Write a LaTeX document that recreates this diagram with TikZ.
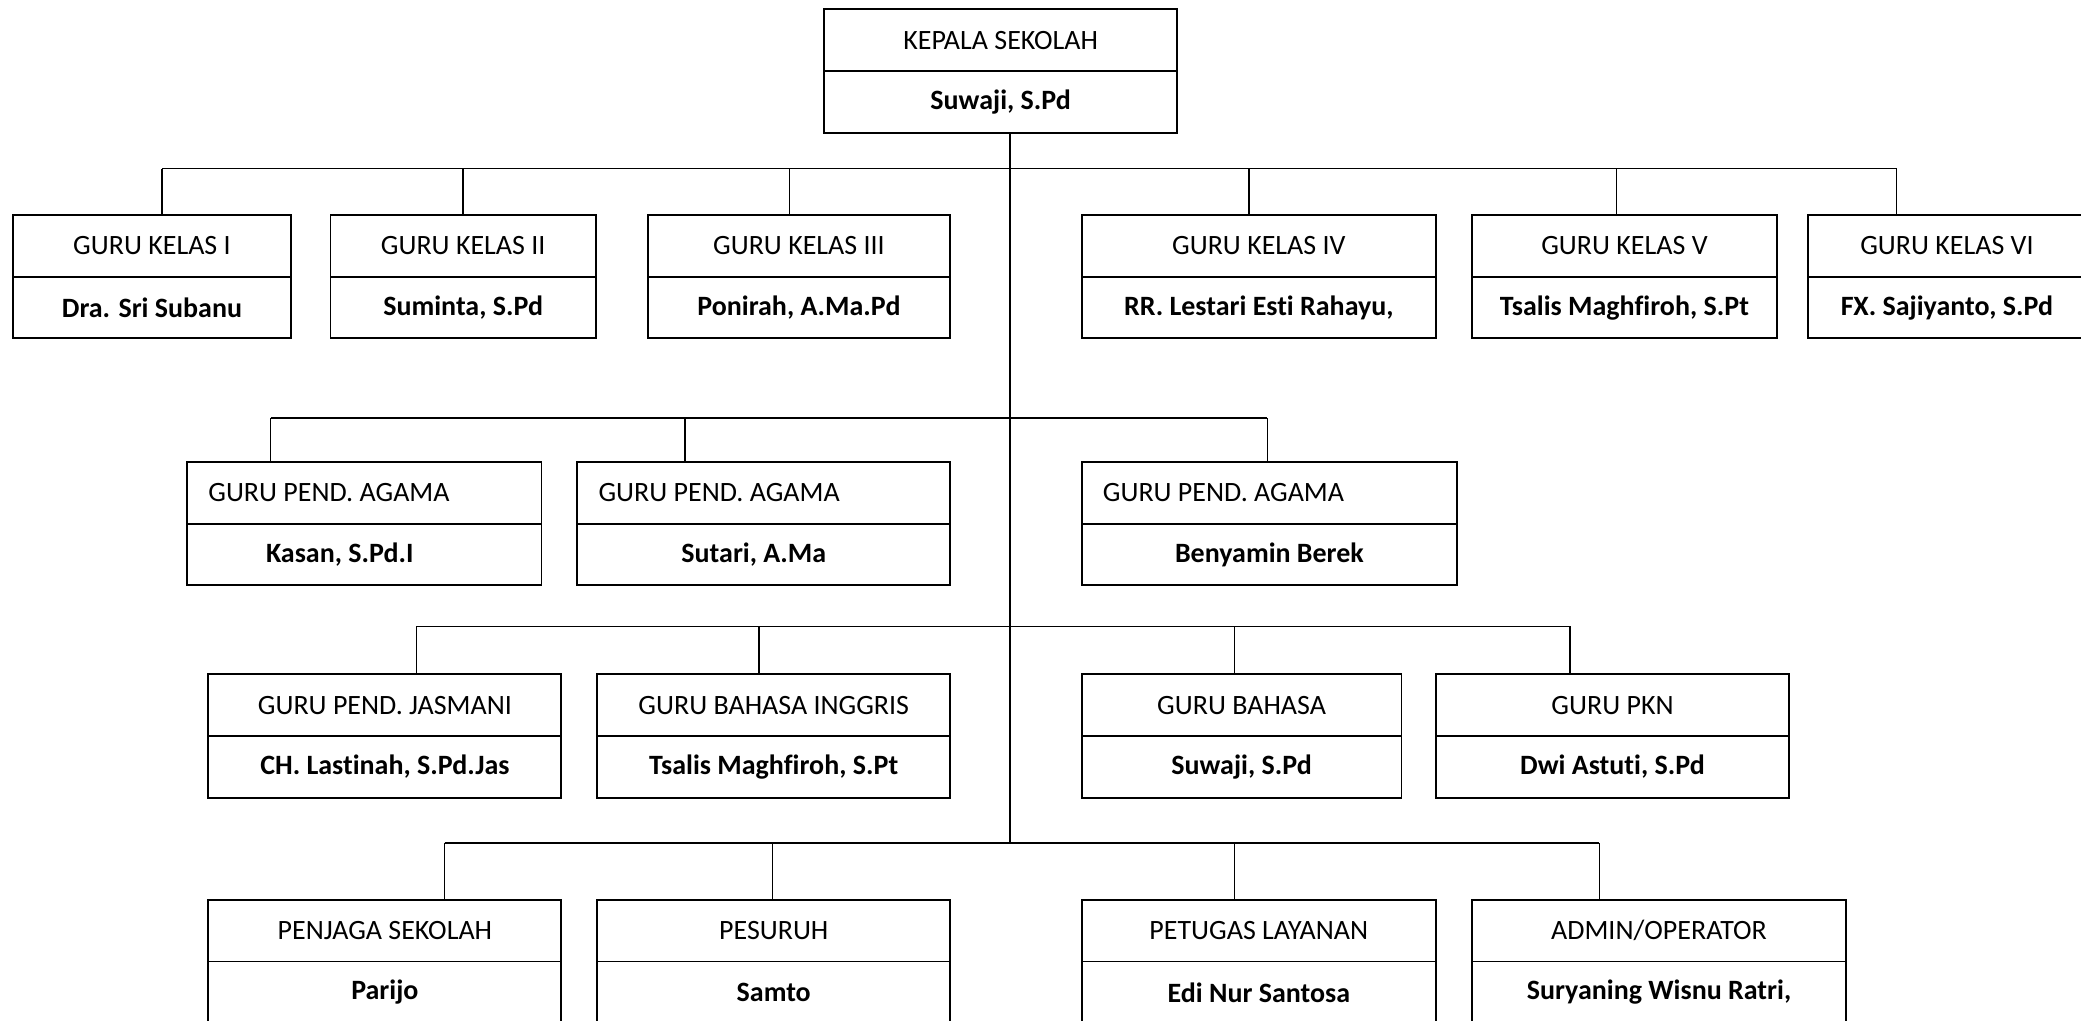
\documentclass[tikz,border=0pt]{standalone}
\usepackage{fontspec}
\setmainfont{Carlito}[Ligatures=NoCommon]
\usepackage{tikz}
\usetikzlibrary{positioning}
\tikzset{jabatan/.style = {draw, line width=0.8pt, inner sep=0, outer sep=0,
                           minimum height=0.93cm, minimum width=#1*0.02cm,
                           font=\fontsize{12}{14}\selectfont}}
\tikzset{nama/.style = {jabatan=#1, font=\fontsize{12}{14}\selectfont\bfseries}}
\tikzset{kiri/.style = {align=flush left, text width=#1*0.02cm-0.64cm, inner xsep=0.32cm}}
\tikzset{garis/.style = {line width=0.6pt}}

\begin{document}
\begin{tikzpicture}[x=0.02cm, y=-0.02cm]
      \clip (0, 0) rectangle (1568, 768.6);

      % kepala sekolah
      \node [jabatan=266, anchor=north west] (ks) at (621, 7) {KEPALA SEKOLAH};
      \node [nama=266, below=0 of ks] (ksn) {Suwaji, S.Pd};

      % guru kelas
      \node [jabatan=209, anchor=north west] (k1) at (10, 162) {GURU KELAS I};
      \node [nama=209, below=0 of k1] (k1n) {Dra. Sri Subanu};
      \node [jabatan=200, anchor=north west] (k2) at (249, 162) {GURU KELAS II};
      \node [nama=200, below=0 of k2] (k2n) {Suminta, S.Pd};
      \node [jabatan=228, anchor=north west] (k3) at (488, 162) {GURU KELAS III};
      \node [nama=228, below=0 of k3] (k3n) {Ponirah, A.Ma.Pd};
      \node [jabatan=267, anchor=north west] (k4) at (815, 162) {GURU KELAS IV};
      \node [nama=267, below=0 of k4] (k4n) {RR. Lestari Esti Rahayu,};
      \node [jabatan=230, anchor=north west] (k5) at (1109, 162) {GURU KELAS V};
      \node [nama=230, below=0 of k5] (k5n) {Tsalis Maghfiroh, S.Pt};
      \node [jabatan=210, anchor=north west] (k6) at (1362, 162) {GURU KELAS VI};
      \node [nama=210, below=0 of k6] (k6n) {FX. Sajiyanto, S.Pd};

      % guru agama
      \node [jabatan=267, kiri=267, anchor=north west] (a1) at (141, 348) {GURU PEND. AGAMA};
      \node [nama=267, below=0 of a1] (a1n) {Kasan, S.Pd.I\kern0.74cm};
      \node [jabatan=281, kiri=281, anchor=north west] (a2) at (435, 348) {GURU PEND. AGAMA};
      \node [nama=281, below=0 of a2] (a2n) {Sutari, A.Ma\kern0.3cm};
      \node [jabatan=283, kiri=283, anchor=north west] (a3) at (815, 348) {GURU PEND. AGAMA};
      \node [nama=283, below=0 of a3] (a3n) {Benyamin Berek};

      % guru mapel
      \node [jabatan=266, anchor=north west] (m1) at (157, 508) {GURU PEND. JASMANI};
      \node [nama=266, below=0 of m1] (m1n) {CH. Lastinah, S.Pd.Jas};
      \node [jabatan=266, anchor=north west] (m2) at (450, 508) {GURU BAHASA INGGRIS};
      \node [nama=266, below=0 of m2] (m2n) {Tsalis Maghfiroh, S.Pt};
      \node [jabatan=241, anchor=north west] (m3) at (815, 508) {GURU BAHASA};
      \node [nama=241, below=0 of m3] (m3n) {Suwaji, S.Pd};
      \node [jabatan=266, anchor=north west] (m4) at (1082, 508) {GURU PKN};
      \node [nama=266, below=0 of m4] (m4n) {Dwi Astuti, S.Pd};

      % tenaga kependidikan
      \node [jabatan=266, anchor=north west] (p1) at (157, 678) {PENJAGA SEKOLAH};
      \node [nama=266, below=0 of p1] (p1n) {Parijo};
      \node [jabatan=266, anchor=north west] (p2) at (450, 678) {PESURUH};
      \node [nama=266, below=0 of p2] (p2n) {Samto};
      \node [jabatan=267, anchor=north west] (p3) at (815, 678) {PETUGAS LAYANAN};
      \node [nama=267, below=0 of p3] (p3n) {Edi Nur Santosa};
      \node [jabatan=282, anchor=north west] (p4) at (1109, 678) {ADMIN/OPERATOR};
      \node [nama=282, below=0 of p4] (p4n) {Suryaning Wisnu Ratri,};

      \coordinate (bus1) at (761, 127);
      \coordinate (bus2) at (761, 315);
      \coordinate (bus3) at (761, 472);
      \coordinate (bus4) at (761, 635);

      \draw [garis] (ksn.south -| bus1) -- (bus4);

      \draw [garis] (bus1 -| 122,0) -- (bus1 -| 1429,0);
      \foreach \n/\x in {k1/122, k2/349, k3/595, k4/941, k5/1218, k6/1429}
        \draw [garis] (bus1 -| \x,0) -- (\n.north -| \x,0);

      \draw [garis] (bus2 -| 204,0) -- (bus2 -| 955,0);
      \foreach \n/\x in {a1/204, a2/516, a3/955}
        \draw [garis] (bus2 -| \x,0) -- (\n.north -| \x,0);

      \draw [garis] (bus3 -| 314,0) -- (bus3 -| 1183,0);
      \foreach \n/\x in {m1/314, m2/572, m3/930, m4/1183}
        \draw [garis] (bus3 -| \x,0) -- (\n.north -| \x,0);

      \draw [garis, line width=0.9pt] (bus4 -| 335,0) -- (bus4 -| 1205,0);
      \foreach \n/\x in {p1/335, p2/582, p3/930, p4/1205}
        \draw [garis] (bus4 -| \x,0) -- (\n.north -| \x,0);
\end{tikzpicture}
\end{document}
